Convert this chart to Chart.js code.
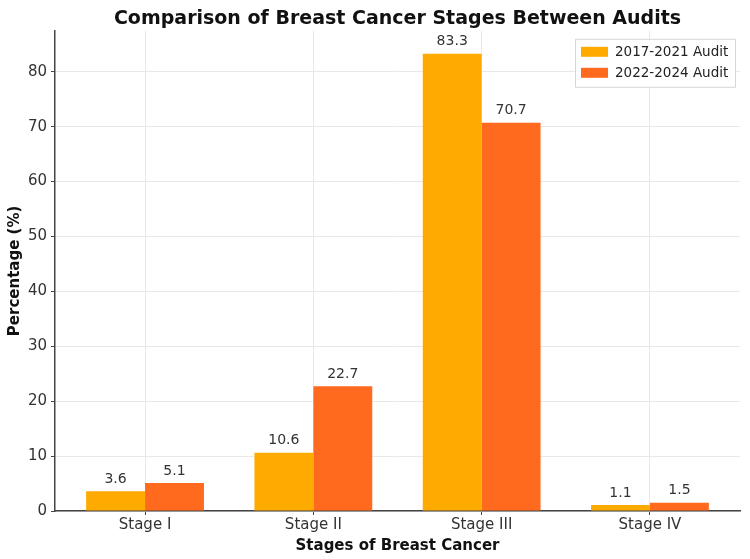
<!DOCTYPE html>
<html><head><meta charset="utf-8">
<script src="https://cdn.jsdelivr.net/npm/chart.js@4"></script>
<style>html,body{margin:0;padding:0;background:#fff}#wrap{width:750px;height:559px}</style>
</head><body><div id="wrap"><canvas id="c"></canvas></div>
<script>
const categories = ['Stage I', 'Stage II', 'Stage III', 'Stage IV'];
const audit2017 = [3.6, 10.6, 83.3, 1.1];
const audit2022 = [5.1, 22.7, 70.7, 1.5];
const seriesLabels = ['2017-2021 Audit', '2022-2024 Audit'];
const yTicks = [0, 10, 20, 30, 40, 50, 60, 70, 80];

const FONT = "'DejaVu Sans', sans-serif";
const toPts = arr => arr.map((v, i) => ({x: i, y: v}));

const valueLabels = {
  id: 'valueLabels',
  afterDatasetsDraw(chart) {
    const ctx = chart.ctx;
    ctx.save();
    ctx.font = "14px " + FONT;
    ctx.fillStyle = '#333';
    ctx.textAlign = 'center';
    ctx.textBaseline = 'bottom';
    chart.data.datasets.forEach((ds, di) => {
      chart.getDatasetMeta(di).data.forEach((bar, i) => {
        ctx.fillText(ds.data[i].y.toFixed(1), bar.x, bar.y - 5);
      });
    });
    ctx.restore();
  }
};

const boxLegend = {
  id: 'boxLegend',
  afterDraw(chart) {
    const ctx = chart.ctx, ca = chart.chartArea;
    const w = 160, h = 48, x = ca.right - w - 5, y = ca.top + 8;
    ctx.save();
    ctx.fillStyle = 'rgba(255,255,255,0.9)';
    ctx.strokeStyle = '#d6d6d6';
    ctx.lineWidth = 1;
    ctx.beginPath();
    ctx.rect(x + 0.5, y + 0.5, w, h);
    ctx.fill(); ctx.stroke();
    ctx.font = "13.5px " + FONT;
    ctx.textBaseline = 'middle';
    chart.data.datasets.forEach((ds, i) => {
      const ry = y + 13 + i * 21;
      ctx.fillStyle = ds.backgroundColor;
      ctx.fillRect(x + 6, ry - 5, 27, 10);
      ctx.fillStyle = '#222';
      ctx.fillText(ds.label, x + 40, ry + 1);
    });
    ctx.restore();
  }
};

new Chart(document.getElementById('c'), {
  type: 'bar',
  data: {
    datasets: [
      {label: seriesLabels[0], data: toPts(audit2017), backgroundColor: '#FFAA00', categoryPercentage: 0.7, barPercentage: 1.0},
      {label: seriesLabels[1], data: toPts(audit2022), backgroundColor: '#FF6A1F', categoryPercentage: 0.7, barPercentage: 1.0}
    ]
  },
  options: {
    responsive: true,
    maintainAspectRatio: false,
    animation: false,
    layout: {padding: {right: 10, left: 0, bottom: 0, top: 0}},
    plugins: {
      legend: {display: false},
      tooltip: {enabled: false},
      title: {
        display: true,
        text: 'Comparison of Breast Cancer Stages Between Audits',
        fullSize: false,
        color: '#111',
        font: {family: FONT, size: 19, weight: 'bold'},
        padding: {top: 8, bottom: 0}
      }
    },
    scales: {
      x: {
        type: 'linear',
        min: -0.535,
        max: 3.535,
        offset: false,
        afterBuildTicks(s) { s.ticks = categories.map((c, i) => ({value: i})); },
        afterFit(s) { s.height = 48; },
        ticks: {
          autoSkip: false,
          callback: v => categories[v],
          color: '#333',
          font: {family: FONT, size: 15},
          padding: 1
        },
        grid: {offset: false, color: '#e8e8e8', lineWidth: 1, tickColor: '#444', tickLength: 4, drawTicks: true},
        border: {display: true, color: '#444', width: 1.5},
        title: {display: true, text: 'Stages of Breast Cancer', color: '#111', font: {family: FONT, size: 15, weight: 'bold'}, padding: {top: 0, bottom: 4}}
      },
      y: {
        min: 0,
        max: 87.465,
        afterBuildTicks(s) { s.ticks = yTicks.map(v => ({value: v})); },
        afterFit(s) { s.width = 55; },
        ticks: {color: '#333', font: {family: FONT, size: 15}, padding: 4},
        grid: {color: '#e8e8e8', lineWidth: 1, tickColor: '#444', tickLength: 4},
        border: {display: true, color: '#444', width: 1.5},
        title: {display: true, text: 'Percentage (%)', color: '#111', font: {family: FONT, size: 15, weight: 'bold'}, padding: {top: 6, bottom: 0}}
      }
    }
  },
  plugins: [valueLabels, boxLegend]
});
</script></body></html>
